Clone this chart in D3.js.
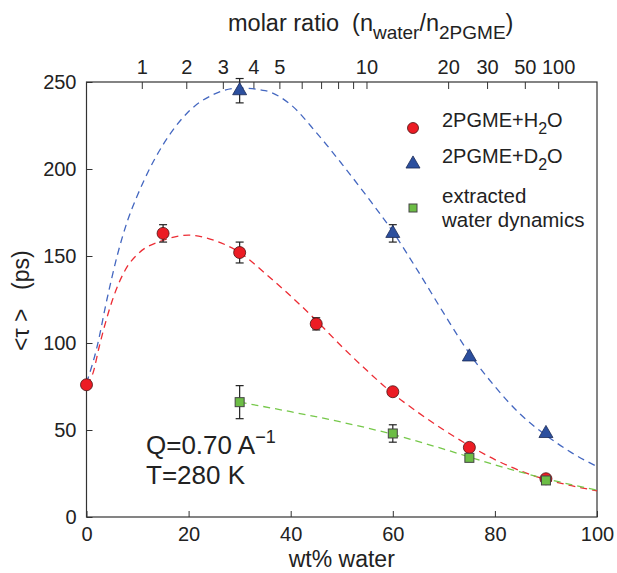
<!DOCTYPE html>
<html>
<head>
<meta charset="utf-8">
<script src="https://cdn.jsdelivr.net/npm/d3@7"></script>
<style>
  body { margin: 0; background: #fff; }
  svg { display: block; }
</style>
</head>
<body>
<svg width="617" height="573"></svg>
<script>
// measured points (wt% water, <tau> in ps, error)
const h2oData = [
  { w: 0, t: 76, e: 0 },
  { w: 15, t: 163, e: 5 },
  { w: 30, t: 152, e: 6 },
  { w: 45, t: 111, e: 3.5 },
  { w: 60, t: 72, e: 0 },
  { w: 75, t: 40, e: 0 },
  { w: 90, t: 22, e: 0 },
];
const d2oData = [
  { w: 30, t: 245, e: 7 },
  { w: 60, t: 163, e: 5 },
  { w: 75, t: 92, e: 0 },
  { w: 90, t: 48, e: 0 },
];
const waterData = [
  { w: 30, t: 66, e: 9.5 },
  { w: 60, t: 48, e: 5 },
  { w: 75, t: 34, e: 0 },
  { w: 90, t: 21, e: 0 },
];

// fitted curves
const h2oFit = [
  [0, 76], [1.3, 83], [2.5, 98], [5, 124], [8, 144], [10, 151], [15, 159], [20, 162],
  [25, 159], [30, 152], [35, 140], [40, 127], [45, 113], [50, 98], [55, 84], [60, 71],
  [65, 60], [70, 50], [75, 41], [80, 33], [85, 26.5], [90, 21.5], [95, 18], [100, 15],
];
const d2oFit = [
  [0, 77], [2, 97], [4, 125], [6, 150], [8, 170], [10, 185], [12, 198], [15, 214],
  [20, 233], [25, 243], [30, 246.5], [35, 245], [40, 237], [45, 221], [50, 203],
  [55, 184], [60, 164], [65, 141], [70, 117], [75, 94], [80, 75], [85, 59], [90, 47],
  [95, 37], [100, 29],
];
const waterFit = [
  [30, 66], [40, 60.5], [50, 54.5], [60, 47.5], [70, 39], [75, 34.5], [80, 30],
  [90, 22], [100, 15.5],
];

// axis ticks
const xTicks = [0, 20, 40, 60, 80, 100];
const yTicks = [0, 50, 100, 150, 200, 250];
const ratioTicks = [1, 2, 3, 4, 5, 6, 7, 8, 9, 10, 20, 30, 50, 100];
const ratioLabels = [1, 2, 3, 4, 5, 10, 20, 30, 50, 100];

const svg = d3.select("svg").attr("font-family", "'Liberation Sans', Arial, sans-serif");

const plotL = 86.5, plotR = 597, plotT = 82, plotB = 517;

const x = d3.scaleLinear().domain([0, 100]).range([plotL, plotR]);
const y = d3.scaleLinear().domain([0, 250]).range([plotB, plotT]);

// molar ratio -> wt% water (M water 18, M 2PGME 148.2)
const ratioToWt = (r) => (100 * 18 * r) / (18 * r + 148.2);

const axisColor = "#333";
const textColor = "#222";

// bottom axis
const gx = svg.append("g")
  .attr("transform", `translate(0, ${plotB})`)
  .call(d3.axisBottom(x).tickValues(xTicks).tickSize(-6).tickPadding(10).tickFormat(d3.format("d")));
gx.select(".domain").remove();
gx.selectAll("line").attr("stroke", axisColor);
gx.selectAll("text").attr("font-size", 20).attr("fill", textColor);

// left axis
const gy = svg.append("g")
  .attr("transform", `translate(${plotL}, 0)`)
  .call(d3.axisLeft(y).tickValues(yTicks).tickSize(-6).tickPadding(10).tickFormat(d3.format("d")));
gy.select(".domain").remove();
gy.selectAll("line").attr("stroke", axisColor);
gy.selectAll("text").attr("font-size", 20).attr("fill", textColor);

// top axis (molar ratio)
const gt = svg.append("g")
  .attr("transform", `translate(0, ${plotT})`)
  .call(d3.axisTop(x).tickValues(ratioTicks.map(ratioToWt)).tickSize(-7).tickPadding(8)
    .tickFormat((d, i) => (ratioLabels.includes(ratioTicks[i]) ? ratioTicks[i] : "")));
gt.select(".domain").remove();
gt.selectAll("line").attr("stroke", axisColor);
gt.selectAll("text").attr("font-size", 20).attr("fill", textColor);

// frame
svg.append("rect")
  .attr("x", plotL).attr("y", plotT)
  .attr("width", plotR - plotL).attr("height", plotB - plotT)
  .attr("fill", "none").attr("stroke", axisColor).attr("stroke-width", 1.2);

// axis titles
svg.append("text")
  .attr("x", x(50)).attr("y", 567)
  .attr("text-anchor", "middle").attr("font-size", 23).attr("fill", textColor)
  .text("wt% water");

// y title in two pieces, reading upward
svg.append("text")
  .attr("transform", "translate(29, 351) rotate(-90)")
  .attr("font-size", 23).attr("fill", textColor)
  .text("<τ >");
svg.append("text")
  .attr("transform", "translate(29, 290) rotate(-90)")
  .attr("font-size", 23).attr("fill", textColor)
  .text("(ps)");

const topTitle = svg.append("text")
  .attr("x", 228).attr("y", 31)
  .attr("font-size", 23.5).attr("fill", textColor)
  .attr("xml:space", "preserve");
topTitle.append("tspan").text("molar ratio  (n");
topTitle.append("tspan").attr("dy", 8).attr("font-size", 19).text("water");
topTitle.append("tspan").attr("dy", -8).text("/n");
topTitle.append("tspan").attr("dy", 8).attr("font-size", 19).text("2PGME");
topTitle.append("tspan").attr("dy", -8).text(")");

// fitted curves
const line = d3.line().x((d) => x(d[0])).y((d) => y(d[1])).curve(d3.curveMonotoneX);
const plot = svg.append("g");
plot.append("path").attr("d", line(d2oFit))
  .attr("fill", "none").attr("stroke", "#4467c0").attr("stroke-width", 1.3).attr("stroke-dasharray", "7,5");
plot.append("path").attr("d", line(h2oFit))
  .attr("fill", "none").attr("stroke", "#ec2c34").attr("stroke-width", 1.3).attr("stroke-dasharray", "7,5");
plot.append("path").attr("d", line(waterFit))
  .attr("fill", "none").attr("stroke", "#76c84a").attr("stroke-width", 1.3).attr("stroke-dasharray", "7,5");

// error bars
function errorBars(data) {
  const g = plot.append("g").attr("stroke", "#222").attr("stroke-width", 1.2);
  const withErr = data.filter((d) => d.e > 0);
  g.selectAll("line.v").data(withErr).join("line").attr("class", "v")
    .attr("x1", (d) => x(d.w)).attr("x2", (d) => x(d.w))
    .attr("y1", (d) => y(d.t - d.e)).attr("y2", (d) => y(d.t + d.e));
  g.selectAll("line.lo").data(withErr).join("line").attr("class", "lo")
    .attr("x1", (d) => x(d.w) - 4).attr("x2", (d) => x(d.w) + 4)
    .attr("y1", (d) => y(d.t - d.e)).attr("y2", (d) => y(d.t - d.e));
  g.selectAll("line.hi").data(withErr).join("line").attr("class", "hi")
    .attr("x1", (d) => x(d.w) - 4).attr("x2", (d) => x(d.w) + 4)
    .attr("y1", (d) => y(d.t + d.e)).attr("y2", (d) => y(d.t + d.e));
}
errorBars(h2oData);
errorBars(d2oData);
errorBars(waterData);

const tri = d3.symbol().type(d3.symbolTriangle).size(85);

plot.append("g").selectAll("path").data(d2oData).join("path")
  .attr("d", tri)
  .attr("transform", (d) => `translate(${x(d.w)}, ${y(d.t)})`)
  .attr("fill", "#2c4f9e").attr("stroke", "#1a2a55").attr("stroke-width", 0.8);

plot.append("g").selectAll("circle").data(h2oData).join("circle")
  .attr("cx", (d) => x(d.w)).attr("cy", (d) => y(d.t)).attr("r", 6)
  .attr("fill", "#ec1c24").attr("stroke", "#4a1010").attr("stroke-width", 0.8);

plot.append("g").selectAll("rect").data(waterData).join("rect")
  .attr("x", (d) => x(d.w) - 4.5).attr("y", (d) => y(d.t) - 4.5)
  .attr("width", 9).attr("height", 9)
  .attr("fill", "#6cbd45").attr("stroke", "#444").attr("stroke-width", 1);

// legend
const legend = svg.append("g").attr("font-size", 20).attr("fill", textColor);
legend.append("circle").attr("cx", 413).attr("cy", 128).attr("r", 5.5)
  .attr("fill", "#ec1c24").attr("stroke", "#4a1010").attr("stroke-width", 0.8);
legend.append("path").attr("d", tri).attr("transform", "translate(413, 164)")
  .attr("fill", "#2c4f9e").attr("stroke", "#1a2a55").attr("stroke-width", 0.8);
legend.append("rect").attr("x", 409).attr("y", 204).attr("width", 8).attr("height", 8)
  .attr("fill", "#6cbd45").attr("stroke", "#444").attr("stroke-width", 1);

const l1 = legend.append("text").attr("x", 442).attr("y", 127);
l1.append("tspan").text("2PGME+H");
l1.append("tspan").attr("dy", 7).attr("font-size", 16).text("2");
l1.append("tspan").attr("dy", -7).text("O");
const l2 = legend.append("text").attr("x", 442).attr("y", 163);
l2.append("tspan").text("2PGME+D");
l2.append("tspan").attr("dy", 7).attr("font-size", 16).text("2");
l2.append("tspan").attr("dy", -7).text("O");
legend.append("text").attr("x", 442).attr("y", 203).attr("font-size", 20.5).text("extracted");
legend.append("text").attr("x", 442).attr("y", 227).attr("font-size", 20.5).text("water dynamics");

// annotation
const note = svg.append("g").attr("font-size", 26).attr("fill", textColor);
const q = note.append("text").attr("x", 146).attr("y", 454);
q.append("tspan").text("Q=0.70 A");
q.append("tspan").attr("dy", -11).attr("font-size", 18).text("−1");
note.append("text").attr("x", 146).attr("y", 484).text("T=280 K");
</script>
</body>
</html>
